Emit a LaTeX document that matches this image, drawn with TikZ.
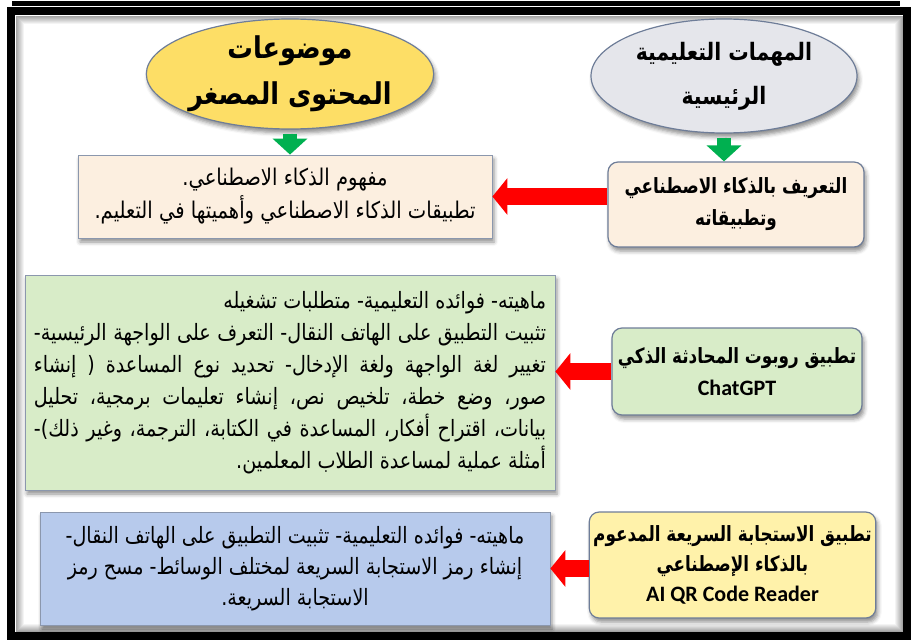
\documentclass[tikz,border=0pt]{standalone}
\usepackage{fontspec}
\newfontfamily\arabicfont[Script=Arabic, FakeStretch=0.85]{DejaVu Sans}
\newfontfamily\arabicnarrow[Script=Arabic, FakeStretch=0.8]{DejaVu Sans}
\newfontfamily\latinfont{Carlito}
\TeXXeTstate=1
\usetikzlibrary{shapes.geometric, arrows.meta, shadows.blur, positioning}

\definecolor{boxline}{RGB}{110,125,152}
\definecolor{ellyellow}{RGB}{253,222,102}
\definecolor{ellgrey}{RGB}{229,230,235}
\definecolor{peach}{RGB}{252,239,224}
\definecolor{palegreen}{RGB}{216,236,200}
\definecolor{paleblue}{RGB}{183,202,236}
\definecolor{paleyellow}{RGB}{255,242,170}
\definecolor{arrowred}{RGB}{255,0,0}
\definecolor{arrowgreen}{RGB}{0,176,80}

\newcommand\rtl[1]{\beginR #1\endR}

\begin{document}
\begin{tikzpicture}[x=1pt, y=-1pt, >=Stealth,
    softshadow/.style={blur shadow={shadow xshift=2pt, shadow yshift=-4pt,
        shadow blur radius=4pt, shadow opacity=45}},
    topic/.style={ellipse, draw=boxline, line width=1.2pt, softshadow,
        align=center, inner sep=0pt},
    taskbox/.style={draw=boxline, line width=1.2pt, rounded corners=10pt,
        softshadow, align=center, inner sep=4pt,
        font=\arabicnarrow\bfseries\fontsize{21}{32}\selectfont},
    detbox/.style={draw=boxline!80, line width=0.8pt, softshadow,
        align=center, inner sep=6pt,
        font=\arabicfont\fontsize{23}{33}\selectfont},
    redarrow/.style={draw=arrowred, line width=17pt,
        -{Triangle[length=15pt, width=36pt]}},
    greenarrow/.style={draw=arrowgreen, line width=14pt,
        -{Triangle[length=16pt, width=34pt]}}]
    \useasboundingbox (0,0) rectangle (911,640);
    % frame
    \draw[line width=5pt] (12,3.5) -- (900,3.5);
    \foreach \i [evaluate=\i as \op using 0.045*(9-\i)] in {1,...,8}
        \draw[black, opacity=\op, line width=1pt] (15+\i,15+\i) rectangle (903-\i,632-\i);
    \draw[line width=8pt] (11,11) rectangle (907,636);

    % headings
    \node[topic, fill=ellyellow, minimum width=274pt, minimum height=110pt,
        font=\arabicfont\bfseries\fontsize{30}{46}\selectfont]
        (topics) at (290,74) {\rtl{موضوعات}\\\rtl{المحتوى المصغر}};
    \node[topic, fill=ellgrey, minimum width=266pt, minimum height=114pt,
        font=\arabicfont\bfseries\fontsize{24}{44}\selectfont]
        (tasks) at (724,76) {\rtl{المهمات التعليمية}\\\rtl{الرئيسية}};

    % row 1
    \node[detbox, fill=peach, minimum width=414pt, minimum height=83pt]
        (aicontent) at (285,196.5)
        {\rtl{مفهوم الذكاء الاصطناعي.}\\\rtl{تطبيقات الذكاء الاصطناعي وأهميتها في التعليم.}};
    \node[taskbox, fill=peach, minimum width=256pt, minimum height=85pt]
        (aitask) at (736,204.5) {\rtl{التعريف بالذكاء الاصطناعي}\\\rtl{وتطبيقاته}};

    % row 2
    \node[detbox, fill=palegreen, minimum width=530pt, minimum height=215pt,
        font=\arabicfont\fontsize{22.5}{32}\selectfont]
        (chatcontent) at (290,382.5)
        {\parbox{512pt}{\raggedleft
         \rtl{ماهيته- فوائده التعليمية- متطلبات تشغيله}\par
         {\leftskip=0pt \parfillskip=0pt
         \beginR تثبيت التطبيق على الهاتف النقال- التعرف على الواجهة الرئيسية-\linebreak
         تغيير لغة الواجهة ولغة الإدخال- تحديد نوع المساعدة ( إنشاء\linebreak
         صور، وضع خطة، تلخيص نص، إنشاء تعليمات برمجية، تحليل\linebreak
         بيانات، اقتراح أفكار، المساعدة في الكتابة، الترجمة، وغير ذلك)-\endR\par}
         \rtl{أمثلة عملية لمساعدة الطلاب المعلمين.}}};
    \node[taskbox, fill=palegreen, minimum width=250pt, minimum height=87pt]
        (chattask) at (737,371.5)
        {\rtl{تطبيق روبوت المحادثة الذكي}\\{\latinfont\bfseries\fontsize{22}{32}\selectfont ChatGPT}};

    % row 3
    \node[detbox, fill=paleblue, minimum width=510pt, minimum height=113pt,
        font=\arabicfont\fontsize{22.5}{31}\selectfont]
        (qrcontent) at (295,568.5)
        {\rtl{ماهيته- فوائده التعليمية- تثبيت التطبيق على الهاتف النقال-}\\
         \rtl{إنشاء رمز الاستجابة السريعة لمختلف الوسائط- مسح رمز}\\
         \rtl{الاستجابة السريعة.}};
    \node[taskbox, fill=paleyellow, minimum width=285pt, minimum height=106pt,
        font=\arabicnarrow\bfseries\fontsize{21}{30}\selectfont]
        (qrtask) at (732.5,565)
        {\rtl{تطبيق الاستجابة السريعة المدعوم}\\\rtl{بالذكاء الإصطناعي}\\{\latinfont\bfseries\fontsize{22}{30}\selectfont AI QR Code Reader}};

    % arrows
    \draw[greenarrow] ([yshift=-4pt]topics.south) -- (topics.south |- aicontent.north);
    \draw[greenarrow] ([yshift=-4pt]tasks.south) -- (tasks.south |- aitask.north);
    \draw[redarrow] (aitask.west |- aicontent.east) -- (aicontent.east);
    \draw[redarrow] (chattask.west) -- (chattask.west -| chatcontent.east);
    \draw[redarrow] (qrtask.west |- qrcontent.east) -- (qrcontent.east);
\end{tikzpicture}
\end{document}
